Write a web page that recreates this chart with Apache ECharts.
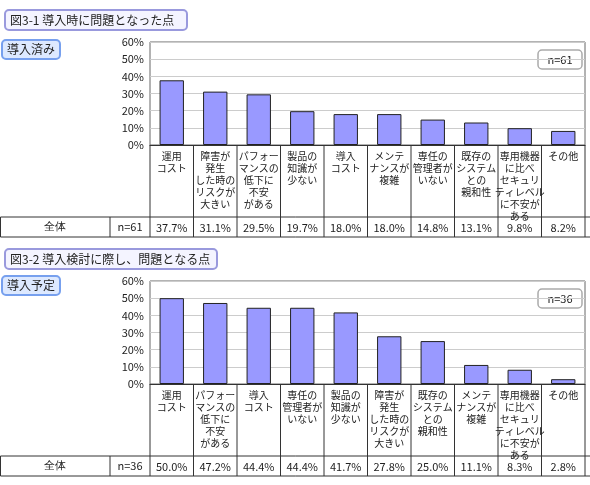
<!DOCTYPE html><html><head><meta charset="utf-8"><script src="https://cdn.jsdelivr.net/npm/echarts@6/dist/echarts.min.js"></script></head><body style="margin:0"><div id="c" style="width:590px;height:485px"></div><script>
const cats1=['運用\nコスト','障害が\n発生\nした時の\nリスクが\n大きい','パフォー\nマンスの\n低下に\n不安\nがある','製品の\n知識が\n少ない','導入\nコスト','メンテ\nナンスが\n複雑','専任の\n管理者が\nいない','既存の\nシステム\nとの\n親和性','専用機器\nに比べ\nセキュリ\nティレベル\nに不安が\nある','その他'];
const vals1=[37.7,31.1,29.5,19.7,18.0,18.0,14.8,13.1,9.8,8.2];
const cats2=['運用\nコスト','パフォー\nマンスの\n低下に\n不安\nがある','導入\nコスト','専任の\n管理者が\nいない','製品の\n知識が\n少ない','障害が\n発生\nした時の\nリスクが\n大きい','既存の\nシステム\nとの\n親和性','メンテ\nナンスが\n複雑','専用機器\nに比べ\nセキュリ\nティレベル\nに不安が\nある','その他'];
const vals2=[50.0,47.2,44.4,44.4,41.7,27.8,25.0,11.1,8.3,2.8];
const yTicks=[0,10,20,30,40,50,60];
const panels=[{title:'図3-1 導入時に問題となった点',tag:'導入済み',n:'n=61',cats:cats1,vals:vals1,top:42,bottom:145,tEnd:217,rEnd:237,ty:10,tagy:40},
{title:'図3-2 導入検討に際し、問題となる点',tag:'導入予定',n:'n=36',cats:cats2,vals:vals2,top:281,bottom:384,tEnd:456,rEnd:476,ty:249,tagy:276}];
const L=150,R=585,W=590,F='"Noto Sans CJK JP",sans-serif';
const grid=[],xAxis=[],yAxis=[],series=[],g=[];
panels.forEach((p,i)=>{
grid.push({left:L,width:R-L,top:p.top,height:p.bottom-p.top,show:true,borderColor:'#666',borderWidth:1});
xAxis.push({type:'category',gridIndex:i,data:p.cats,axisTick:{show:false},axisLine:{lineStyle:{color:'#333'}},axisLabel:{interval:0,fontSize:10,lineHeight:12,color:'#222',fontFamily:F,verticalAlign:'top',margin:5}});
xAxis.push({type:'category',gridIndex:i,position:'bottom',offset:p.tEnd-p.bottom+1,data:p.vals.map(v=>v.toFixed(1)+'%'),axisTick:{show:false},axisLine:{show:false},axisLabel:{interval:0,fontSize:11,color:'#222',fontFamily:F,margin:4}});
yAxis.push({type:'value',gridIndex:i,min:0,max:60,interval:10,axisLine:{show:false},axisTick:{show:false},splitLine:{lineStyle:{color:'#ccc'}},axisLabel:{formatter:'{value}%',fontSize:11,color:'#222',fontFamily:F,margin:6}});
series.push({type:'bar',xAxisIndex:2*i,yAxisIndex:i,data:p.vals,barWidth:'56%',itemStyle:{color:'#9999ff',borderColor:'#222',borderWidth:1}});
const cw=(R-L)/p.vals.length;
for(let k=0;k<=p.vals.length;k++){g.push({type:'line',shape:{x1:L+k*cw,y1:p.bottom,x2:L+k*cw,y2:p.rEnd},style:{stroke:'#333',lineWidth:1}});}
g.push({type:'line',shape:{x1:0.5,y1:p.tEnd,x2:W,y2:p.tEnd},style:{stroke:'#333'}});
g.push({type:'line',shape:{x1:0.5,y1:p.rEnd,x2:W,y2:p.rEnd},style:{stroke:'#333'}});
g.push({type:'line',shape:{x1:0.5,y1:p.tEnd,x2:0.5,y2:p.rEnd},style:{stroke:'#333'}});
g.push({type:'line',shape:{x1:110,y1:p.tEnd,x2:110,y2:p.rEnd},style:{stroke:'#333'}});
g.push({type:'text',x:55,y:(p.tEnd+p.rEnd)/2,style:{text:'全体',fontSize:11,fill:'#222',font:'11px '+F,align:'center',verticalAlign:'middle'}});
g.push({type:'text',x:130,y:(p.tEnd+p.rEnd)/2,style:{text:p.n,fill:'#222',font:'11px '+F,align:'center',verticalAlign:'middle'}});
g.push({type:'rect',shape:{x:5,y:p.ty,width:182+(i?30:0),height:20,r:4},style:{fill:'#f4f4ff',stroke:'#9999dd',lineWidth:2}});
g.push({type:'text',x:10,y:p.ty+10,style:{text:p.title,fill:'#222',font:'12px '+F,verticalAlign:'middle'}});
g.push({type:'rect',shape:{x:2,y:p.tagy,width:58,height:19,r:4},style:{fill:'#dde9ff',stroke:'#77a0ee',lineWidth:2}});
g.push({type:'text',x:7,y:p.tagy+9.5,style:{text:p.tag,fill:'#222',font:'12px '+F,verticalAlign:'middle'}});
g.push({type:'rect',shape:{x:538,y:p.top+8,width:44,height:19,r:4},style:{fill:'#fff',stroke:'#aaa',lineWidth:1.5}});
g.push({type:'text',x:560,y:p.top+17.5,style:{text:p.n,fill:'#222',font:'11px '+F,align:'center',verticalAlign:'middle'}});
});
const ch=echarts.init(document.getElementById('c'));
ch.setOption({animation:false,backgroundColor:'#fff',grid,xAxis,yAxis,series,graphic:g});
</script></body></html>
